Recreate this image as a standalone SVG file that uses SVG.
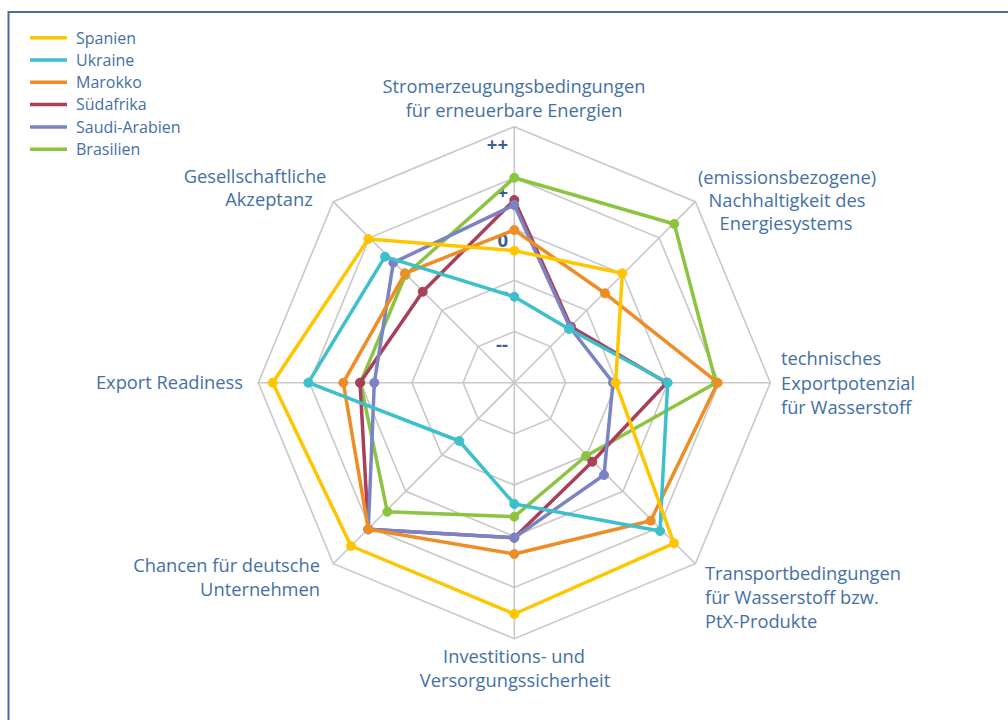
<svg xmlns="http://www.w3.org/2000/svg" width="1008" height="720" viewBox="0 0 1008 720">
<style>
text{font-family:"Open Sans","Noto Sans","Liberation Sans",sans-serif;fill:#4470A6}
.ax{font-size:18.3px}
.lg{font-size:16px}
.tk{font-size:18.5px;font-weight:bold;fill:#3B5E92;text-anchor:end}
.grid{fill:none;stroke:#C8C8C8;stroke-width:1.6}
.s{fill:none;stroke-width:3.5;stroke-linejoin:round}
.esp{stroke:#FFC600;fill:#FFC600}
.eua{stroke:#3EBFCC;fill:#3EBFCC}
.ema{stroke:#EE8C25;fill:#EE8C25}
.esa{stroke:#AA3F5A;fill:#AA3F5A}
.eks{stroke:#7A84C4;fill:#7A84C4}
.ebr{stroke:#8BC540;fill:#8BC540}
</style>
<rect width="1008" height="720" fill="#FFFFFF"/>
<rect x="8.5" y="12" width="1010" height="720" fill="none" stroke="#4A6C96" stroke-width="2"/>

<g id="grid" class="grid" transform="translate(514.3,382.7)">
<polygon points="0,-51.2 36.2,-36.2 51.2,0 36.2,36.2 0,51.2 -36.2,36.2 -51.2,0 -36.2,-36.2"/>
<polygon points="0,-102.4 72.41,-72.41 102.4,0 72.41,72.41 0,102.4 -72.41,72.41 -102.4,0 -72.41,-72.41"/>
<polygon points="0,-153.6 108.61,-108.61 153.6,0 108.61,108.61 0,153.6 -108.61,108.61 -153.6,0 -108.61,-108.61"/>
<polygon points="0,-204.8 144.82,-144.82 204.8,0 144.82,144.82 0,204.8 -144.82,144.82 -204.8,0 -144.82,-144.82"/>
<polygon points="0,-256 181.02,-181.02 256,0 181.02,181.02 0,256 -181.02,181.02 -256,0 -181.02,-181.02"/>
<path d="M0,0V-256M0,0L181.02,-181.02M0,0H256M0,0L181.02,181.02M0,0V256M0,0L-181.02,181.02M0,0H-256M0,0L-181.02,-181.02"/>
</g>

<g id="ticks">
<text class="tk" x="508" y="150.5">++</text>
<text class="tk" x="508" y="199">+</text>
<text class="tk" x="508" y="247">0</text>
<text class="tk" x="508" y="298">-</text>
<text class="tk" x="508" y="351">--</text>
</g>

<g id="series">
<g id="brasilien" class="ebr">
<polygon class="s" points="514.3,177.7 674.3,224 716,382.7 586,456 514.3,516.7 387.3,511.7 360.5,382.7 405.5,275"/>
<circle cx="514.3" cy="177.7" r="4.5"/><circle cx="674.3" cy="224" r="4.5"/><circle cx="716" cy="382.7" r="4.5"/><circle cx="586" cy="456" r="4.5"/><circle cx="514.3" cy="516.7" r="4.5"/><circle cx="387.3" cy="511.7" r="4.5"/><circle cx="360.5" cy="382.7" r="4.5"/><circle cx="405.5" cy="275" r="4.5"/>
</g>
<g id="suedafrika" class="esa">
<polygon class="s" points="514.3,200 571,326.7 666.7,382.7 592.3,461.7 514.3,537.7 368.3,529.3 360,382.7 422.7,291.7"/>
<circle cx="514.3" cy="200" r="4.5"/><circle cx="571" cy="326.7" r="4.5"/><circle cx="666.7" cy="382.7" r="4.5"/><circle cx="592.3" cy="461.7" r="4.5"/><circle cx="514.3" cy="537.7" r="4.5"/><circle cx="368.3" cy="529.3" r="4.5"/><circle cx="360" cy="382.7" r="4.5"/><circle cx="422.7" cy="291.7" r="4.5"/>
</g>
<g id="saudi-arabien" class="eks">
<polygon class="s" points="514.3,205 570,327.5 613,382.7 604,475 514.3,537.7 368.3,529.3 374.3,382.7 393.3,262.7"/>
<circle cx="514.3" cy="205" r="4.5"/><circle cx="570" cy="327.5" r="4.5"/><circle cx="613" cy="382.7" r="4.5"/><circle cx="604" cy="475" r="4.5"/><circle cx="514.3" cy="537.7" r="4.5"/><circle cx="368.3" cy="529.3" r="4.5"/><circle cx="374.3" cy="382.7" r="4.5"/><circle cx="393.3" cy="262.7" r="4.5"/>
</g>
<g id="marokko" class="ema">
<polygon class="s" points="514.3,230 605,293.3 717.7,382.7 650.7,520.7 514.3,554 368.3,529.3 343.3,382.7 405,273.3"/>
<circle cx="514.3" cy="230" r="4.5"/><circle cx="605" cy="293.3" r="4.5"/><circle cx="717.7" cy="382.7" r="4.5"/><circle cx="650.7" cy="520.7" r="4.5"/><circle cx="514.3" cy="554" r="4.5"/><circle cx="368.3" cy="529.3" r="4.5"/><circle cx="343.3" cy="382.7" r="4.5"/><circle cx="405" cy="273.3" r="4.5"/>
</g>
<g id="ukraine" class="eua">
<polygon class="s" points="514.3,296.7 569,329 667.7,382.7 660,531 514.3,504 459.3,441 308.3,382.7 385,256.7"/>
<circle cx="514.3" cy="296.7" r="4.5"/><circle cx="569" cy="329" r="4.5"/><circle cx="667.7" cy="382.7" r="4.5"/><circle cx="660" cy="531" r="4.5"/><circle cx="514.3" cy="504" r="4.5"/><circle cx="459.3" cy="441" r="4.5"/><circle cx="308.3" cy="382.7" r="4.5"/><circle cx="385" cy="256.7" r="4.5"/>
</g>
<g id="spanien" class="esp">
<polygon class="s" points="514.3,250.7 622.3,273.3 615.7,382.7 674,543.3 514.3,614 351,546 272.7,382.7 368.3,239"/>
<circle cx="514.3" cy="250.7" r="4.5"/><circle cx="622.3" cy="273.3" r="4.5"/><circle cx="615.7" cy="382.7" r="4.5"/><circle cx="674" cy="543.3" r="4.5"/><circle cx="514.3" cy="614" r="4.5"/><circle cx="351" cy="546" r="4.5"/><circle cx="272.7" cy="382.7" r="4.5"/><circle cx="368.3" cy="239" r="4.5"/>
</g>
</g>

<g id="label-strom" class="ax" text-anchor="middle">
<text x="514" y="93">Stromerzeugungsbedingungen</text>
<text x="514" y="117">für erneuerbare Energien</text>
</g>
<g id="label-nachhaltigkeit" class="ax" text-anchor="middle">
<text x="787" y="184">(emissionsbezogene)</text>
<text x="787" y="207">Nachhaltigkeit des</text>
<text x="786" y="230">Energiesystems</text>
</g>
<g id="label-export" class="ax">
<text x="781" y="365">technisches</text>
<text x="781" y="390">Exportpotenzial</text>
<text x="781" y="414">für Wasserstoff</text>
</g>
<g id="label-transport" class="ax">
<text x="705" y="580">Transportbedingungen</text>
<text x="705" y="604">für Wasserstoff bzw.</text>
<text x="705" y="628">PtX-Produkte</text>
</g>
<g id="label-invest" class="ax" text-anchor="middle">
<text x="514" y="663">Investitions- und</text>
<text x="515" y="687">Versorgungssicherheit</text>
</g>
<g id="label-chancen" class="ax" text-anchor="end">
<text x="320" y="572">Chancen für deutsche</text>
<text x="320" y="596">Unternehmen</text>
</g>
<g id="label-readiness" class="ax" text-anchor="end">
<text x="243" y="389">Export Readiness</text>
</g>
<g id="label-akzeptanz" class="ax" text-anchor="middle">
<text x="255" y="183">Gesellschaftliche</text>
<text x="269" y="206">Akzeptanz</text>
</g>

<g id="legend">
<line x1="30" y1="37.7" x2="67" y2="37.7" stroke="#FFC600" stroke-width="3.5"/><text class="lg" x="76" y="43.5">Spanien</text>
<line x1="30" y1="60" x2="67" y2="60" stroke="#3EBFCC" stroke-width="3.5"/><text class="lg" x="76" y="65.8">Ukraine</text>
<line x1="30" y1="82.3" x2="67" y2="82.3" stroke="#EE8C25" stroke-width="3.5"/><text class="lg" x="76" y="88.1">Marokko</text>
<line x1="30" y1="104.6" x2="67" y2="104.6" stroke="#AA3F5A" stroke-width="3.5"/><text class="lg" x="76" y="110.4">Südafrika</text>
<line x1="30" y1="126.9" x2="67" y2="126.9" stroke="#7A84C4" stroke-width="3.5"/><text class="lg" x="76" y="132.7">Saudi-Arabien</text>
<line x1="30" y1="149.2" x2="67" y2="149.2" stroke="#8BC540" stroke-width="3.5"/><text class="lg" x="76" y="155">Brasilien</text>
</g>
</svg>
